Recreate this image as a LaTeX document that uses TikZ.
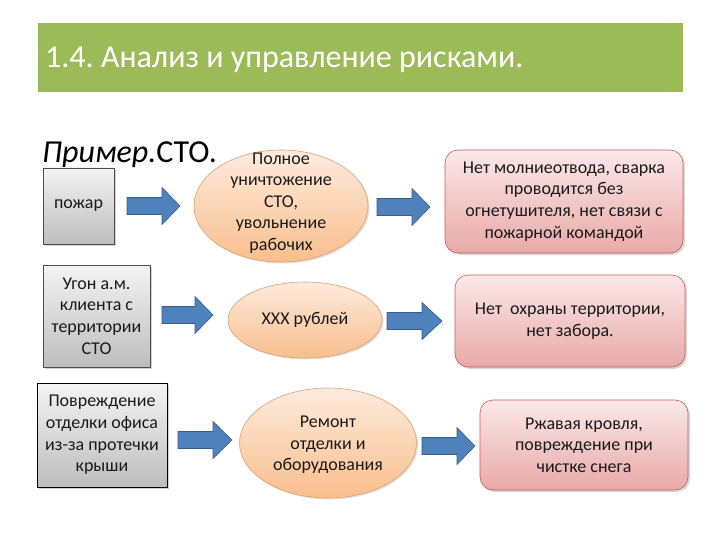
\documentclass[tikz,border=0pt]{standalone}
\usepackage{fontspec}
\setmainfont{Carlito}
\usetikzlibrary{shapes.geometric,shadows}
\frenchspacing
\definecolor{bandgreen}{HTML}{9BBB59}
\definecolor{grayT}{HTML}{F4F4F4}
\definecolor{grayB}{HTML}{BDBDBD}
\definecolor{grayD}{HTML}{4D4D4D}
\definecolor{orT}{HTML}{FDEBDD}
\definecolor{orB}{HTML}{F9BE8C}
\definecolor{orD}{HTML}{E0A070}
\definecolor{pkT}{HTML}{FBE8E8}
\definecolor{pkB}{HTML}{E8A9A8}
\definecolor{pkD}{HTML}{C0605D}
\definecolor{arF}{HTML}{4F81BD}
\definecolor{arD}{HTML}{385D8A}
\definecolor{txt}{HTML}{1A1A1A}
\newcommand\blockarrow[5]{%
  \draw[arrowshape] (#2,#5-8.5) coordinate (#1) -- (#3,#5-8.5) -- (#3,#5-18.5) -- (#4,#5)
    -- (#3,#5+18.5) -- (#3,#5+8.5) -- (#2,#5+8.5) -- cycle;}
\begin{document}
\begin{tikzpicture}[x=1pt,y=-1pt,
  body/.style={font=\fontsize{18}{21.6}\selectfont, text=txt, align=center},
  graybox/.style={body, draw=grayD, line width=0.8pt, top color=grayT, bottom color=grayB,
    inner sep=2pt, drop shadow={opacity=0.35, shadow xshift=2pt, shadow yshift=-2pt}},
  orell/.style={ellipse, draw=orD, line width=0.6pt, top color=orT, bottom color=orB,
    inner sep=0pt, drop shadow={opacity=0.25, shadow xshift=1.5pt, shadow yshift=-1.5pt}},
  pinkbox/.style={body, draw=pkD, line width=0.6pt, rounded corners=13pt, top color=pkT,
    bottom color=pkB, inner sep=2pt, drop shadow={opacity=0.3, shadow xshift=2pt, shadow yshift=-2pt}},
  arrowshape/.style={fill=arF, draw=arD, line width=0.6pt, line join=miter}
]
\useasboundingbox (0,0) rectangle (720,540);
\fill[white] (0,0) rectangle (720,540);

% title band
\node[fill=bandgreen, minimum width=645, minimum height=69, inner sep=0pt] (band) at (360.5,57.5) {};
\node[anchor=west, text=white, font=\fontsize{32}{38}\selectfont, inner sep=0pt] (title) at (45,60) {1.4. Анализ и управление рисками.};

% example
\node[anchor=base west, inner sep=0pt, font=\fontsize{32}{38}\selectfont, text=black] (ex) at (42,163) {\textit{Пример.}СТО.};

% left column
\node[graybox, minimum width=71, minimum height=76] (g1) at (78.5,206) {пожар};
\node[graybox, minimum width=107, minimum height=102] (g2) at (96.5,316) {Угон а.м.\\клиента с\\территории\\СТО};
\node[graybox, draw=black, minimum width=130, minimum height=104] (g3) at (102,435) {Повреждение\\отделки офиса\\из-за протечки\\крыши};

% ellipses
\node[orell, minimum width=174, minimum height=112] (e1) at (281,206) {};
\node[body] (e1t) at (281,203) {Полное\\уничтожение\\СТО,\\увольнение\\рабочих};
\node[orell, minimum width=154, minimum height=76] (e2) at (305,320) {};
\node[body] (e2t) at (305,320) {XXX рублей};
\node[orell, minimum width=177, minimum height=110] (e3) at (328,443) {};
\node[body] (e3t) at (328,445) {Ремонт\\отделки и\\оборудования};

% pink boxes
\node[pinkbox, minimum width=238, minimum height=103] (p1) at (564,201.5) {Нет молниеотвода, сварка\\проводится без\\огнетушителя, нет связи с\\пожарной командой};
\node[pinkbox, minimum width=230, minimum height=92] (p2) at (570,321) {Нет\ \ охраны территории,\\нет забора.};
\node[pinkbox, minimum width=208, minimum height=90] (p3) at (584,445) {Ржавая кровля,\\повреждение при\\чистке снега};

% block arrows
\blockarrow{a1}{127}{162}{180}{206}
\blockarrow{a2}{162}{195}{213}{315}
\blockarrow{a3}{178}{213}{232}{440}
\blockarrow{a4}{377}{412}{430}{207}
\blockarrow{a5}{387}{422}{442}{321}
\blockarrow{a6}{422}{457}{475}{446}
\end{tikzpicture}
\end{document}
